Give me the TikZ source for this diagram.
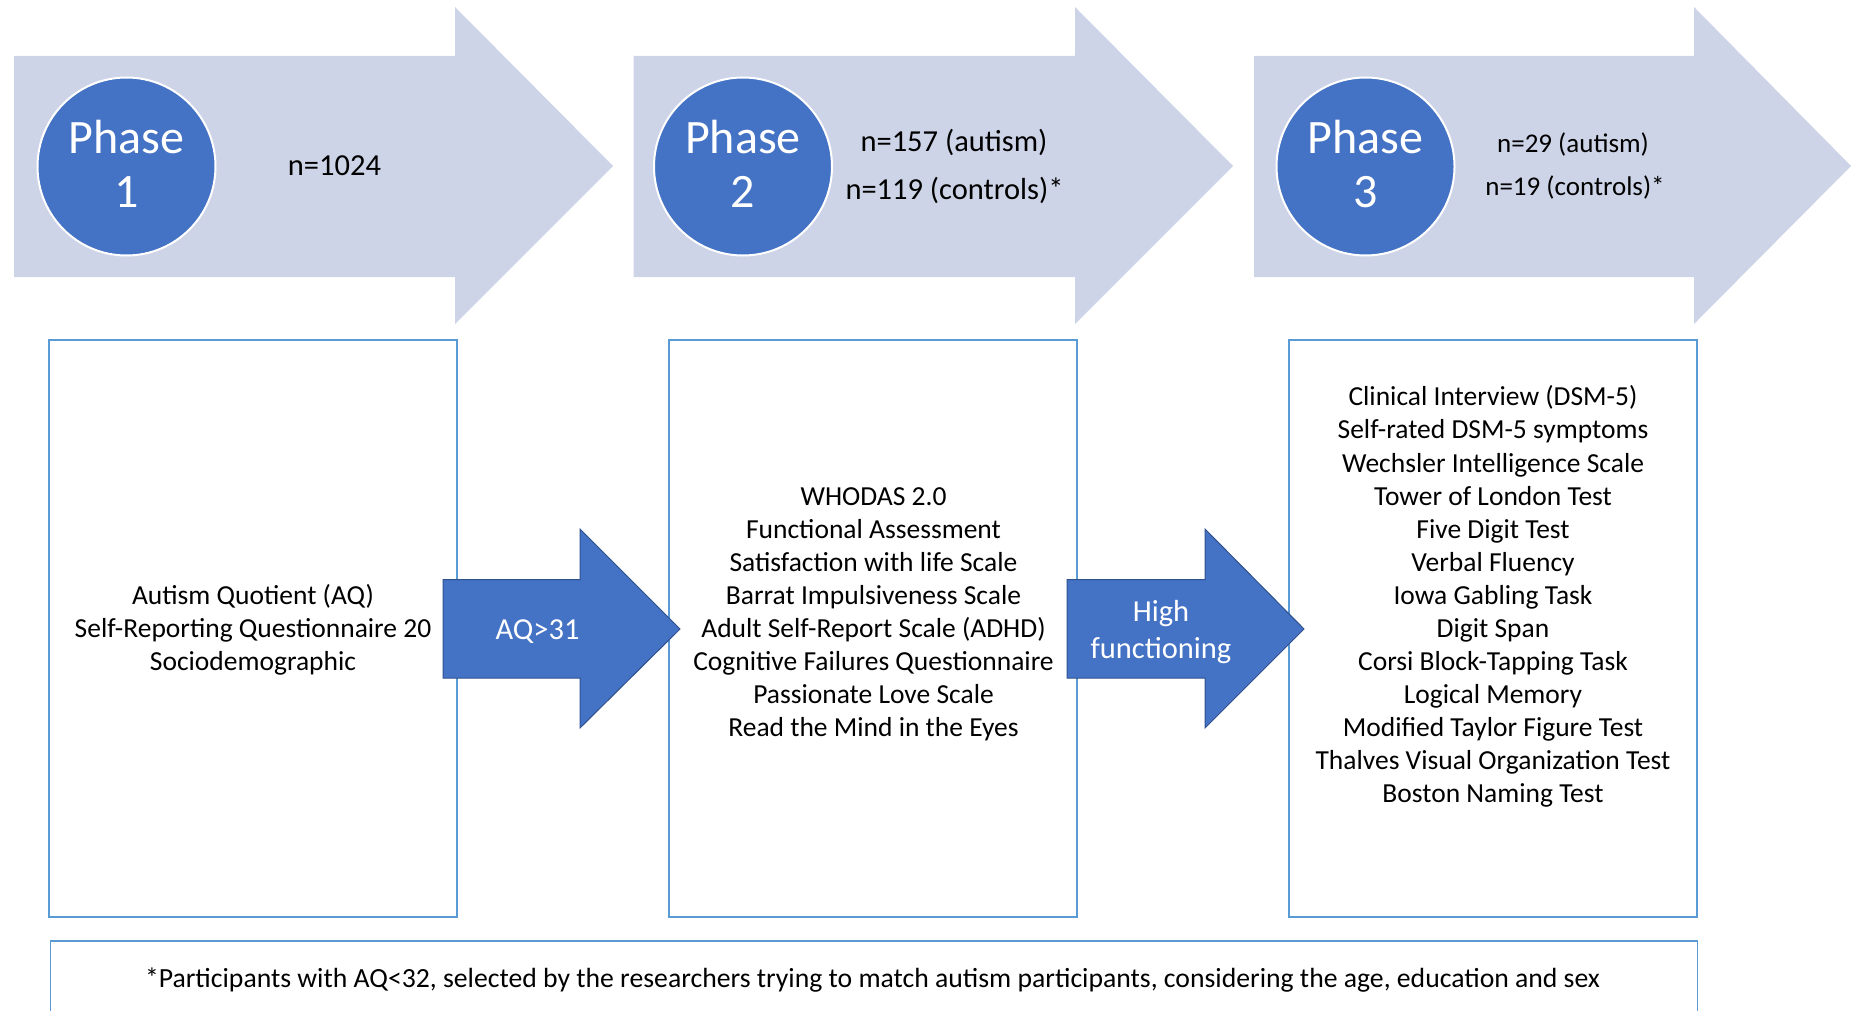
\documentclass[tikz,border=0pt]{standalone}
\usepackage{fontspec}
\setmainfont{Carlito}
\definecolor{bigarrow}{HTML}{CED4E8}
\definecolor{accent}{HTML}{4472C4}
\definecolor{accentdark}{HTML}{2F528F}
\definecolor{boxline}{HTML}{5B9BD5}
\tikzset{
  phasecirc/.style={circle, fill=accent, draw=white, line width=1pt, minimum size=89pt, inner sep=0pt},
  phasetxt/.style={anchor=base, text=white, font=\fontsize{24}{28}\selectfont, inner sep=0pt},
  ntxt/.style={anchor=base, font=\fontsize{15.25}{18}\selectfont, inner sep=0pt},
  nsmall/.style={anchor=base, font=\fontsize{13.5}{16}\selectfont, inner sep=0pt},
  listbox/.style={draw=boxline, line width=0.8pt, fill=none, inner sep=0pt},
  boxtxt/.style={anchor=base, font=\fontsize{13.75}{16}\selectfont, inner sep=0pt},
  blockarrow/.style={fill=accent, draw=accentdark, line width=0.5pt},
  arrowtxt/.style={anchor=base, text=white, font=\fontsize{15.25}{18}\selectfont, inner sep=0pt},
  foottxt/.style={anchor=base, font=\fontsize{13.85}{16}\selectfont, inner sep=0pt}
}
\begin{document}
\begin{tikzpicture}[x=0.5pt,y=-0.5pt]
\useasboundingbox (0,0) rectangle (1852,1011);
\clip (0,0) rectangle (1852,1011);
% big phase arrows
\foreach \L/\H/\T in {14/455/613, 633.5/1075/1233, 1254/1694/1851}
  \fill[bigarrow] (\L,56) -- (\H,56) -- (\H,7) -- (\T,166) -- (\H,324) -- (\H,277) -- (\L,277) -- cycle;
% circles
\node[phasecirc] (c1) at (126.5,166.5) {};
\node[phasecirc] (c2) at (743,166.5) {};
\node[phasecirc] (c3) at (1365.5,166.5) {};
\node[phasetxt] (p1a) at (126.5,154) {Phase};
\node[phasetxt] (p1b) at (126.5,207) {1};
\node[phasetxt] (p2a) at (743,154) {Phase};
\node[phasetxt] (p2b) at (743,207) {2};
\node[phasetxt] (p3a) at (1365.5,154) {Phase};
\node[phasetxt] (p3b) at (1365.5,207) {3};
% sample sizes
\node[ntxt] (n1) at (334.5,176) {n=1024};
\node[ntxt] (n2a) at (954,152) {n=157 (autism)};
\node[ntxt] (n2b) at (954.5,199) {n=119 (controls)*};
\node[nsmall] (n3a) at (1573,153) {n=29 (autism)};
\node[nsmall] (n3b) at (1575,195) {n=19 (controls)*};
% list boxes
\node[listbox, minimum width=204pt, minimum height=288.5pt] (box1) at (253,628.5) {};
\node[listbox, minimum width=204pt, minimum height=288.5pt] (box2) at (873,628.5) {};
\node[listbox, minimum width=204pt, minimum height=288.5pt] (box3) at (1493,628.5) {};
\foreach \t [count=\i] in {Autism Quotient (AQ), Self-Reporting Questionnaire 20, Sociodemographic}
  \node[boxtxt] (t1-\i) at (253, 604.2+33.06*\i-33.06) {\t};
\foreach \t [count=\i] in {WHODAS 2.0, Functional Assessment, Satisfaction with life Scale, Barrat Impulsiveness Scale, Adult Self-Report Scale (ADHD), Cognitive Failures Questionnaire, Passionate Love Scale, Read the Mind in the Eyes}
  \node[boxtxt] (t2-\i) at (873.5, 505.1+33.06*\i-33.06) {\t};
\foreach \t [count=\i] in {Clinical Interview (DSM-5), Self-rated DSM-5 symptoms, Wechsler Intelligence Scale, Tower of London Test, Five Digit Test, Verbal Fluency, Iowa Gabling Task, Digit Span, Corsi Block-Tapping Task, Logical Memory, Modified Taylor Figure Test, Thalves Visual Organization Test, Boston Naming Test}
  \node[boxtxt] (t3-\i) at (1493, 405.9+33.06*\i-33.06) {\t};
% block arrows between boxes
\draw[blockarrow] (443,579.5) -- (580,579.5) -- (580,529) -- (680,629) -- (580,728) -- (580,678) -- (443,678) -- cycle;
\draw[blockarrow] (1067,579.5) -- (1205,579.5) -- (1205,529) -- (1304,629) -- (1205,728) -- (1205,678) -- (1067,678) -- cycle;
\node[arrowtxt] (aq) at (537.5,639) {AQ>31};
\node[arrowtxt] (hf1) at (1161,621) {High};
\node[arrowtxt] (hf2) at (1161,658) {functioning};
% footnote box
\node[listbox, minimum width=823.5pt, minimum height=50pt, anchor=north west] (foot) at (49.5,940) {};
\node[foottxt] (ft) at (872.5,987) {*Participants with AQ<32, selected by the researchers trying to match autism participants, considering the age, education and sex};
\end{tikzpicture}
\end{document}
